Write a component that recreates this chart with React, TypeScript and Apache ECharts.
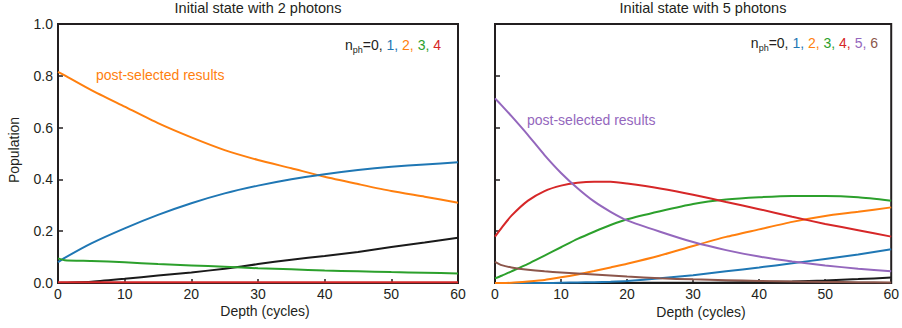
import React, { useEffect, useRef } from 'react';
import * as echarts from 'echarts';

// ---- Data: left panel (initial state with 2 photons) ----
const depthA = [0, 1, 5, 10, 15, 20, 25, 30, 35, 40, 45, 50, 55, 60];
const a_n0 = [0, 0.001, 0.005, 0.016, 0.029, 0.041, 0.055, 0.073, 0.09, 0.104, 0.12, 0.139, 0.156, 0.175];
const a_n1 = [0.08, 0.097, 0.153, 0.211, 0.263, 0.308, 0.346, 0.376, 0.401, 0.42, 0.436, 0.449, 0.458, 0.466];
const a_n2 = [0.815, 0.802, 0.745, 0.681, 0.617, 0.562, 0.513, 0.475, 0.443, 0.41, 0.382, 0.355, 0.333, 0.31];
const a_n3 = [0.095, 0.088, 0.085, 0.08, 0.073, 0.068, 0.063, 0.057, 0.053, 0.048, 0.045, 0.042, 0.04, 0.037];
const a_n4 = [0.003, 0.003, 0.003, 0.003, 0.003, 0.003, 0.003, 0.003, 0.003, 0.003, 0.003, 0.003, 0.003, 0.003];

// ---- Data: right panel (initial state with 5 photons) ----
const depthB = [0, 1, 2.5, 5, 7.5, 10, 12.5, 15, 17.5, 20, 25, 30, 35, 40, 45, 50, 55, 60];
const b_n0 = [0, 0, 0, 0, 0, 0, 0, 0, 0, 0, 0.001, 0.001, 0.002, 0.003, 0.006, 0.01, 0.015, 0.021];
const b_n1 = [0, 0, 0, 0, 0, 0.001, 0.002, 0.003, 0.005, 0.008, 0.018, 0.03, 0.045, 0.06, 0.076, 0.093, 0.11, 0.13];
const b_n2 = [0, 0, 0.001, 0.006, 0.012, 0.022, 0.033, 0.046, 0.06, 0.074, 0.106, 0.143, 0.178, 0.207, 0.236, 0.259, 0.275, 0.292];
const b_n3 = [0.018, 0.028, 0.045, 0.074, 0.106, 0.138, 0.17, 0.198, 0.224, 0.246, 0.277, 0.305, 0.322, 0.331, 0.336, 0.336, 0.331, 0.318];
const b_n4 = [0.179, 0.213, 0.26, 0.318, 0.355, 0.376, 0.387, 0.391, 0.391, 0.384, 0.365, 0.341, 0.313, 0.285, 0.256, 0.228, 0.204, 0.179];
const b_n5 = [0.713, 0.686, 0.644, 0.571, 0.494, 0.425, 0.366, 0.315, 0.275, 0.242, 0.198, 0.158, 0.127, 0.102, 0.083, 0.068, 0.055, 0.045];
const b_n6 = [0.082, 0.069, 0.06, 0.051, 0.045, 0.041, 0.037, 0.033, 0.029, 0.025, 0.018, 0.014, 0.011, 0.008, 0.006, 0.004, 0.003, 0.002];

const xTicks = [0, 10, 20, 30, 40, 50, 60];
const yTicks = [0, 0.2, 0.4, 0.6, 0.8, 1.0];

const titles = ['Initial state with 2 photons', 'Initial state with 5 photons'];
const xName = 'Depth (cycles)';
const yName = 'Population';
const annotation = 'post-selected results';

const COLORS = ['#1a1a1a', '#1f77b4', '#ff7f0e', '#2ca02c', '#d62728', '#9467bd', '#8c564b'];
const AX = '#231f20';
const FONT = 'Liberation Sans, Arial, Helvetica, sans-serif';

const zip = (xs: number[], ys: number[]) => xs.map((x, i) => [x, ys[i]]);

export default function App() {
  const ref = useRef<HTMLDivElement>(null);

  useEffect(() => {
    const chart = echarts.init(ref.current!, null, { renderer: 'svg' });

    const mkX = (gi: number) => ({
      type: 'value',
      gridIndex: gi,
      min: xTicks[0],
      max: xTicks[xTicks.length - 1],
      interval: 10,
      axisLine: { show: false },
      axisTick: { show: true, inside: true, length: 4, lineStyle: { color: AX, width: 1.5 } },
      axisLabel: { show: true, fontSize: 14, color: AX, fontFamily: FONT, margin: 4 },
      splitLine: { show: false },
    });
    const mkY = (gi: number, labels: boolean) => ({
      type: 'value',
      gridIndex: gi,
      min: yTicks[0],
      max: yTicks[yTicks.length - 1],
      interval: 0.2,
      axisLine: { show: false },
      axisTick: { show: true, inside: true, length: 5, lineStyle: { color: AX, width: 1.5 } },
      axisLabel: {
        show: labels,
        fontSize: 14,
        color: AX,
        fontFamily: FONT,
        margin: 5,
        formatter: (v: number) => v.toFixed(1),
      },
      splitLine: { show: false },
    });

    const line = (gi: number, xs: number[], ys: number[], color: string, z = 2) => ({
      type: 'line',
      xAxisIndex: gi,
      yAxisIndex: gi,
      data: zip(xs, ys),
      showSymbol: false,
      smooth: 0.2,
      z,
      lineStyle: { color, width: 2 },
      itemStyle: { color },
    });

    const legendRich = (n: number) => {
      const rich: any = {
        m: { fontSize: 14, fill: AX, fontFamily: FONT, lineHeight: 18 },
        s: { fontSize: 9, fill: AX, fontFamily: FONT, lineHeight: 8, verticalAlign: 'bottom' },
      };
      let text = '{m|n}{s|ph}{m|=0, }';
      for (let i = 1; i <= n; i++) {
        rich['c' + i] = { fontSize: 14, fill: COLORS[i], fontFamily: FONT, lineHeight: 18 };
        text += `{c${i}|${i}${i < n ? ', ' : ''}}`;
      }
      return { text, rich };
    };

    const lg1 = legendRich(4);
    const lg2 = legendRich(6);

    const txt = (x: number, y: number, text: string, opts: any = {}) => ({
      type: 'text',
      x,
      y,
      rotation: opts.rotation || 0,
      style: {
        text,
        fill: opts.fill || AX,
        fontSize: opts.size || 14,
        fontFamily: FONT,
        align: opts.align || 'center',
        verticalAlign: 'middle',
        rich: opts.rich,
      },
    });

    chart.setOption({
      animation: false,
      backgroundColor: '#ffffff',
      grid: [
        { left: 58, top: 24, width: 400, height: 259, show: true, borderColor: AX, borderWidth: 2, backgroundColor: 'transparent' },
        { left: 495, top: 24, width: 400, height: 259, show: true, borderColor: AX, borderWidth: 2, backgroundColor: 'transparent' },
      ],
      xAxis: [mkX(0), mkX(1)],
      yAxis: [mkY(0, true), mkY(1, false)],
      series: [
        line(0, depthA, a_n2, COLORS[2]),
        line(0, depthA, a_n1, COLORS[1]),
        line(0, depthA, a_n0, COLORS[0]),
        line(0, depthA, a_n3, COLORS[3]),
        line(0, depthA, a_n4, COLORS[4], 3),
        line(1, depthB, b_n0, COLORS[0]),
        line(1, depthB, b_n1, COLORS[1]),
        line(1, depthB, b_n2, COLORS[2]),
        line(1, depthB, b_n3, COLORS[3]),
        line(1, depthB, b_n4, COLORS[4]),
        line(1, depthB, b_n5, COLORS[5]),
        line(1, depthB, b_n6, COLORS[6]),
      ],
      graphic: [
        txt(258, 8, titles[0], { size: 14.5 }),
        txt(703, 8, titles[1], { size: 14.5 }),
        txt(265, 311, xName),
        txt(701, 312, xName),
        txt(14, 150, yName, { rotation: Math.PI / 2 }),
        txt(96, 75, annotation, { align: 'left', fill: COLORS[2] }),
        txt(527, 120, annotation, { align: 'left', fill: COLORS[5] }),
        txt(441, 45, lg1.text, { align: 'right', rich: lg1.rich }),
        txt(878, 43, lg2.text, { align: 'right', rich: lg2.rich }),
      ],
    });

    return () => chart.dispose();
  }, []);

  return (
    <div
      ref={ref}
      style={{ position: 'fixed', left: 0, top: 0, width: 902, height: 328, background: '#fff' }}
    />
  );
}
